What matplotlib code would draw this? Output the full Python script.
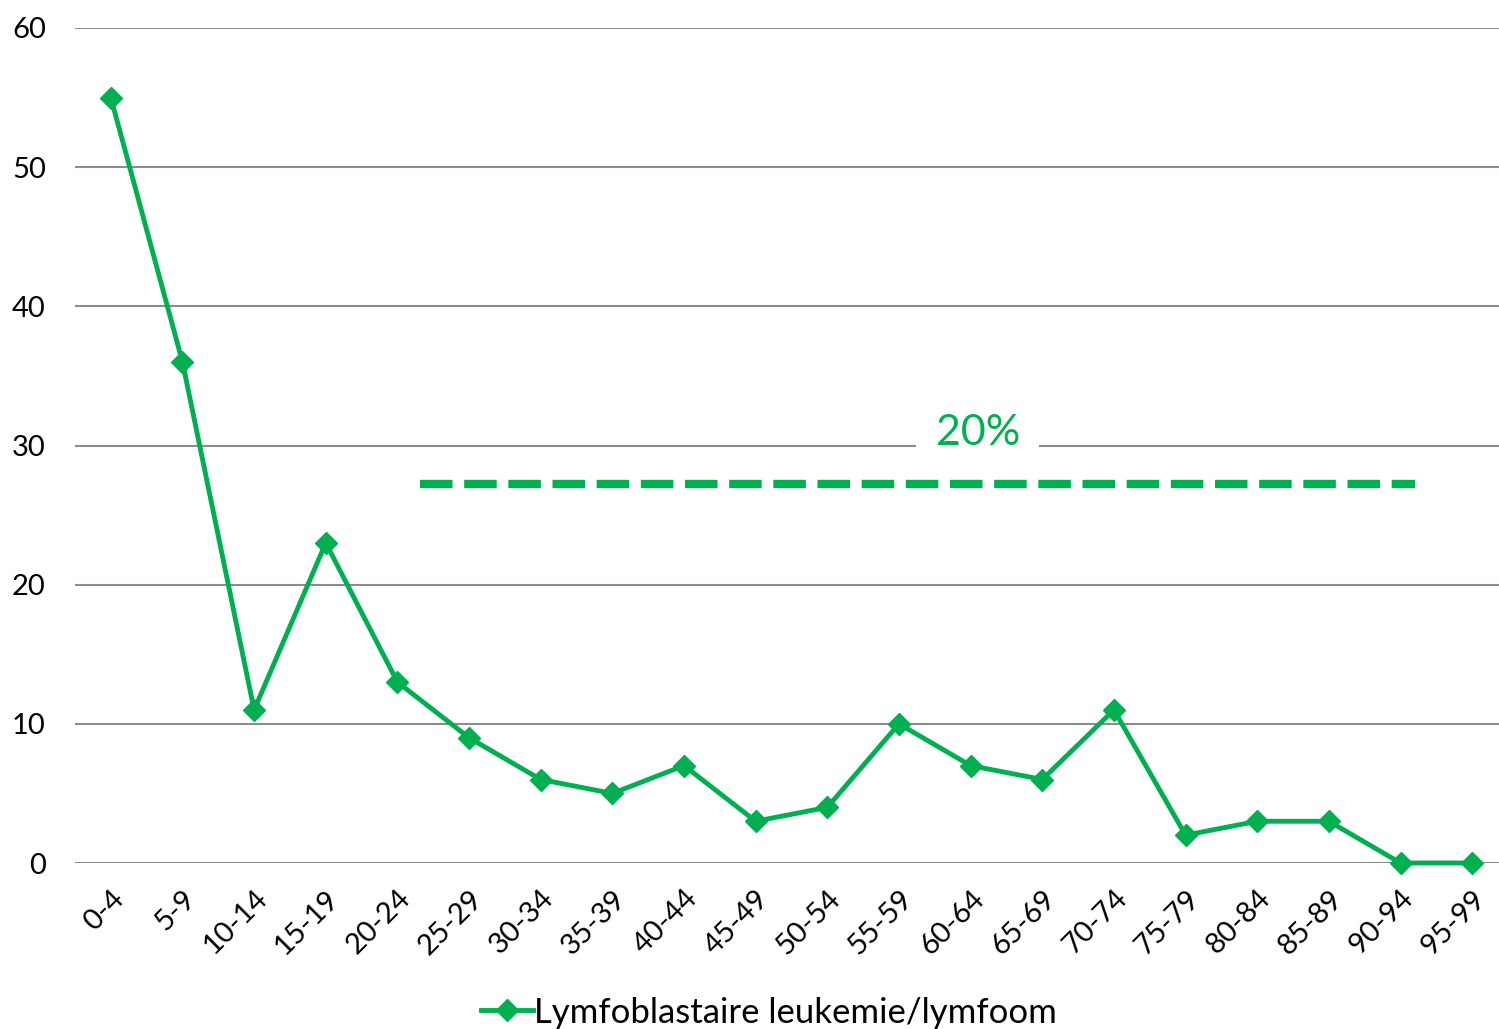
import matplotlib.pyplot as plt
import numpy as np

plt.rcParams['font.family'] = ['Lato', 'DejaVu Sans']

# Age groups and counts
age_groups = ['0-4', '5-9', '10-14', '15-19', '20-24', '25-29', '30-34', '35-39',
              '40-44', '45-49', '50-54', '55-59', '60-64', '65-69', '70-74',
              '75-79', '80-84', '85-89', '90-94', '95-99']
counts = [55, 36, 11, 23, 13, 9, 6, 5, 7, 3, 4, 10, 7, 6, 11, 2, 3, 3, 0, 0]
series_label = 'Lymfoblastaire leukemie/lymfoom'

# Dashed reference line and its label
ref_level = 27.2
ref_start, ref_end = 4.32, 18.2
ref_text = '20%'
ref_text_pos = (12.1, 30.9)

green = '#00B050'

fig = plt.figure(figsize=(14.99, 10.29), dpi=100)
ax = fig.add_axes([75 / 1499, 1 - 863 / 1029, 1433 / 1499, 835 / 1029])

x = np.arange(len(age_groups))
ax.plot(x, counts, color=green, lw=3.5, marker='D', markersize=11,
        label=series_label, zorder=3, clip_on=False)

ax.plot([ref_start, ref_end], [ref_level, ref_level], color=green, lw=6,
        dashes=(3.9, 1.4), solid_capstyle='butt', dash_capstyle='butt', zorder=3)
ax.text(*ref_text_pos, ref_text, color=green, fontsize=31, ha='center', va='center',
        bbox=dict(facecolor='white', edgecolor='none', pad=14), zorder=2)

ax.set_xlim(-0.5, len(age_groups) - 0.5)
ax.set_ylim(0, 60)
ax.set_yticks(range(0, 61, 10))
ax.set_xticks(x)
ax.set_xticklabels(age_groups, rotation=45, ha='right', rotation_mode='anchor')
ax.tick_params(axis='both', length=0, labelsize=21)
ax.tick_params(axis='y', pad=21)
ax.tick_params(axis='x', pad=16)

ax.grid(axis='y', color='#8c8c8c', lw=1.5)
ax.set_axisbelow(True)
for s in ax.spines.values():
    s.set_visible(False)

fig.legend(loc='lower center', bbox_to_anchor=(0.513, -0.03), frameon=False,
           fontsize=25, handlelength=1.5, handletextpad=0.05)

plt.savefig('out.png', dpi=100)
